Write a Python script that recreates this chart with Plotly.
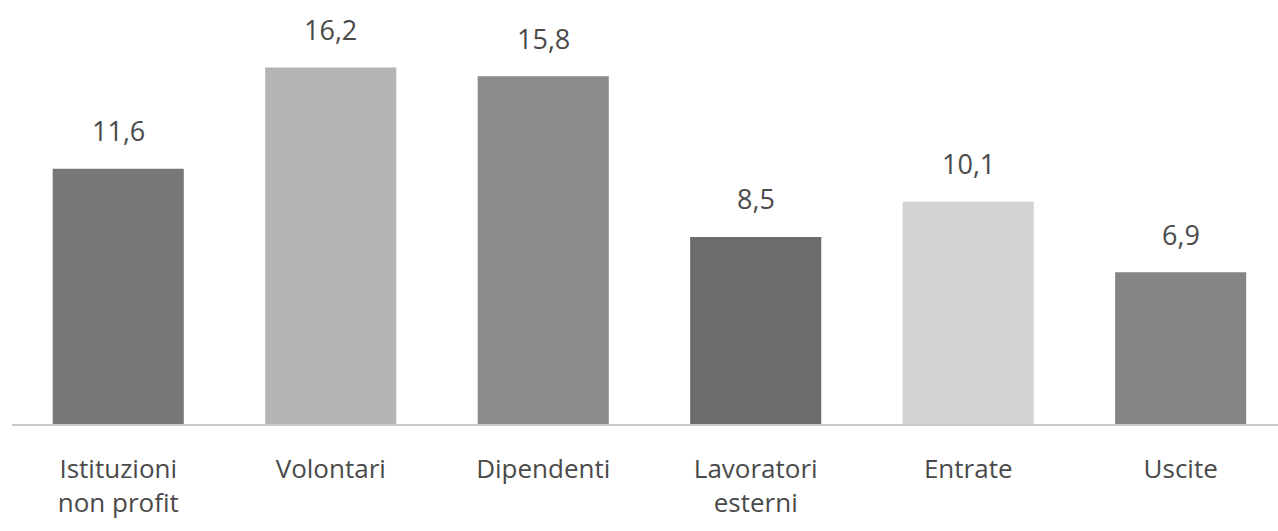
import plotly.graph_objects as go

categories = ["Istituzioni<br>non profit", "Volontari", "Dipendenti",
              "Lavoratori<br>esterni", "Entrate", "Uscite"]
values = [11.6, 16.2, 15.8, 8.5, 10.1, 6.9]
value_labels = ["11,6", "16,2", "15,8", "8,5", "10,1", "6,9"]
bar_colors = ["#777777", "#b4b4b4", "#8b8b8b", "#6c6c6c", "#d3d3d3", "#858585"]

TEXT_FONT = "Open Sans"
TEXT_COLOR = "#4a4a4a"

fig = go.Figure(
    go.Bar(
        x=categories,
        y=values,
        marker=dict(color=bar_colors, line=dict(width=0)),
        hoverinfo="x+y",
    )
)

# value labels floating above each bar
for cat, val, lab in zip(categories, values, value_labels):
    fig.add_annotation(
        x=cat, y=val, text=lab, showarrow=False,
        yanchor="middle", yshift=38,
        font=dict(family=TEXT_FONT, size=27, color=TEXT_COLOR),
    )

fig.update_layout(
    width=1278,
    height=531,
    margin=dict(l=12, r=0, t=0, b=107),
    paper_bgcolor="white",
    plot_bgcolor="white",
    bargap=0.383,
    showlegend=False,
)
fig.update_xaxes(
    range=[-0.5, 5.458],
    showline=True,
    linecolor="#c8c8c8",
    linewidth=2,
    ticks="",
    ticklabelstandoff=21,
    tickfont=dict(family=TEXT_FONT, size=26, color=TEXT_COLOR),
    showgrid=False,
)
fig.update_yaxes(
    range=[0, 19.27],
    visible=False,
    showgrid=False,
)

fig.write_html("out.html")
